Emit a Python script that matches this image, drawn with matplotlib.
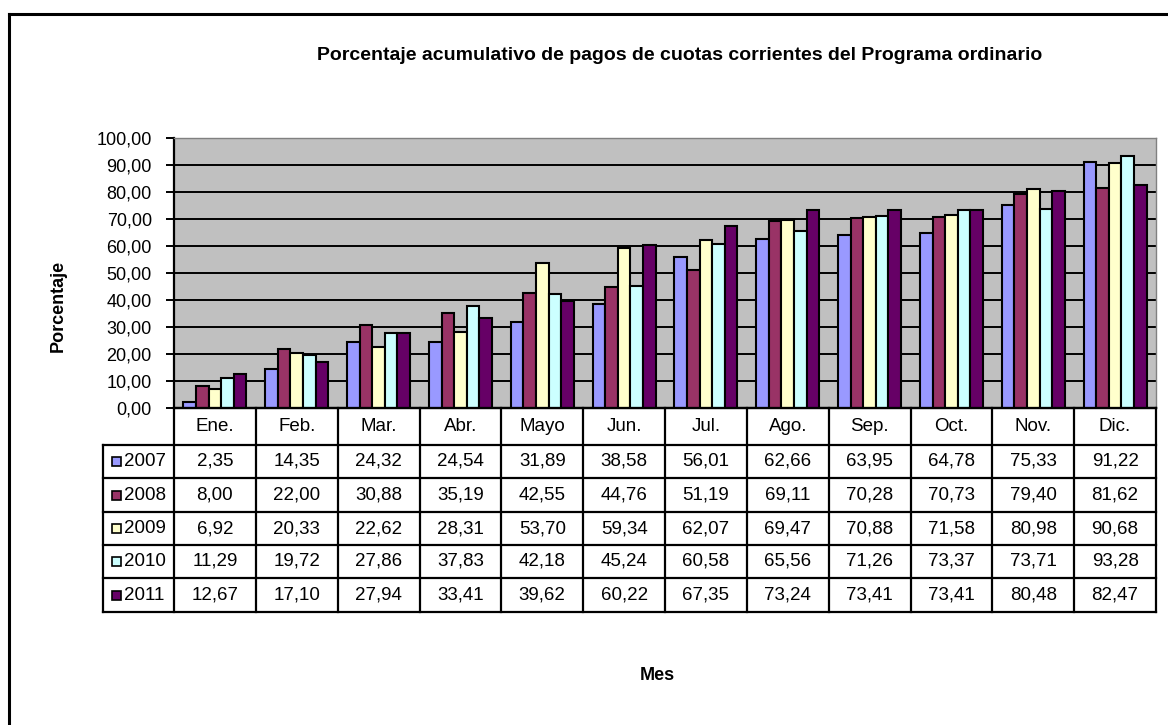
import numpy as np
import matplotlib.pyplot as plt
from matplotlib.patches import Rectangle
from matplotlib.lines import Line2D

plt.rcParams['font.family'] = ['Liberation Sans', 'DejaVu Sans']

# ----------------------------------------------
# data
months = ['Ene.', 'Feb.', 'Mar.', 'Abr.', 'Mayo', 'Jun.', 'Jul.', 'Ago.', 'Sep.', 'Oct.', 'Nov.', 'Dic.']
years = ['2007', '2008', '2009', '2010', '2011']
v2007 = [2.35, 14.35, 24.32, 24.54, 31.89, 38.58, 56.01, 62.66, 63.95, 64.78, 75.33, 91.22]
v2008 = [8.00, 22.00, 30.88, 35.19, 42.55, 44.76, 51.19, 69.11, 70.28, 70.73, 79.40, 81.62]
v2009 = [6.92, 20.33, 22.62, 28.31, 53.70, 59.34, 62.07, 69.47, 70.88, 71.58, 80.98, 90.68]
v2010 = [11.29, 19.72, 27.86, 37.83, 42.18, 45.24, 60.58, 65.56, 71.26, 73.37, 73.71, 93.28]
v2011 = [12.67, 17.10, 27.94, 33.41, 39.62, 60.22, 67.35, 73.24, 73.41, 73.41, 80.48, 82.47]
series = [v2007, v2008, v2009, v2010, v2011]
colors = ['#9999FF', '#993366', '#FFFFCC', '#CCFFFF', '#660066']

W, H = 1168, 725
fig = plt.figure(figsize=(W / 100, H / 100), dpi=100)

def px_rect(x0, y0, x1, y1):
    # pixel box (top-left origin) -> figure fraction
    return [x0 / W, 1 - y1 / H, (x1 - x0) / W, (y1 - y0) / H]

# outer border (only left/top visible in the picture)
fig.add_artist(Line2D([9 / W, 9 / W], [0, 1 - 14 / H], color='black', lw=2.2))
fig.add_artist(Line2D([9 / W, 1], [1 - 14 / H, 1 - 14 / H], color='black', lw=2.2))

# ----------------------------------------------
# bars
ax = fig.add_axes(px_rect(174, 138, 1156, 408))
ax.set_facecolor('#C0C0C0')
n = len(years)
bw = 1 / (n + 1.5)
x = np.arange(len(months))
for i, vals in enumerate(series):
    ax.bar(x + (i - (n - 1) / 2) * bw, vals, width=bw, color=colors[i],
           edgecolor='black', linewidth=1.5, zorder=3)
ax.set_xlim(-0.5, len(months) - 0.5)
ax.set_ylim(0, 100)
ax.set_yticks(np.arange(0, 101, 10))
ax.set_yticklabels([f'{t:.2f}'.replace('.', ',') for t in np.arange(0, 101, 10)], fontsize=13)
ax.yaxis.grid(True, color='black', linewidth=1.4, zorder=1)
ax.set_xticks([])
ax.tick_params(axis='y', direction='out', length=6, width=1.4, pad=10)
for s in ['top', 'right']:
    ax.spines[s].set_color('#808080')
    ax.spines[s].set_linewidth(1.0)
ax.spines['left'].set_linewidth(1.6)
ax.spines['bottom'].set_linewidth(1.6)

# ----------------------------------------------
# data table under the bars
px_unit = (1156 - 174) / len(months)
left_x = -0.5 - (174 - 103) / px_unit
tax = fig.add_axes(px_rect(103, 408, 1156, 612))
tax.set_xlim(left_x, len(months) - 0.5)
row_edges_px = [408, 445, 478, 512, 545, 578, 612]
tax.set_ylim(612, 408)
tax.axis('off')
lw = 1.6
# horizontal lines
tax.plot([-0.5, len(months) - 0.5], [408, 408], color='black', lw=lw, clip_on=False)
for yy in row_edges_px[1:]:
    tax.plot([left_x, len(months) - 0.5], [yy, yy], color='black', lw=lw, clip_on=False)
# vertical lines
for k in range(len(months) + 1):
    tax.plot([k - 0.5, k - 0.5], [408, 612], color='black', lw=lw, clip_on=False)
tax.plot([left_x, left_x], [445, 612], color='black', lw=lw, clip_on=False)

for j, m in enumerate(months):
    tax.text(j, (408 + 445) / 2, m, ha='center', va='center', fontsize=13.5)
for i, vals in enumerate(series):
    yc = (row_edges_px[i + 1] + row_edges_px[i + 2]) / 2
    sq = 9 / px_unit
    tax.add_patch(Rectangle((left_x + 9 / px_unit, yc - 4.5), sq, 9, facecolor=colors[i],
                            edgecolor='black', lw=1.2, clip_on=False))
    tax.text(left_x + 21 / px_unit, yc, years[i], ha='left', va='center', fontsize=13.5)
    for j, v in enumerate(vals):
        tax.text(j, yc, f'{v:.2f}'.replace('.', ','), ha='center', va='center', fontsize=13.5)

# ----------------------------------------------
# titles
fig.text(680 / W, 1 - 55 / H, 'Porcentaje acumulativo de pagos de cuotas corrientes del Programa ordinario',
         ha='center', va='center', fontsize=14, fontweight='bold')
fig.text(657 / W, 1 - 676 / H, 'Mes', ha='center', va='center', fontsize=13, fontweight='bold')
fig.text(58 / W, 1 - 306 / H, 'Porcentaje', ha='center', va='center', fontsize=13,
         fontweight='bold', rotation=90)

fig.savefig('out.png', dpi=100)
